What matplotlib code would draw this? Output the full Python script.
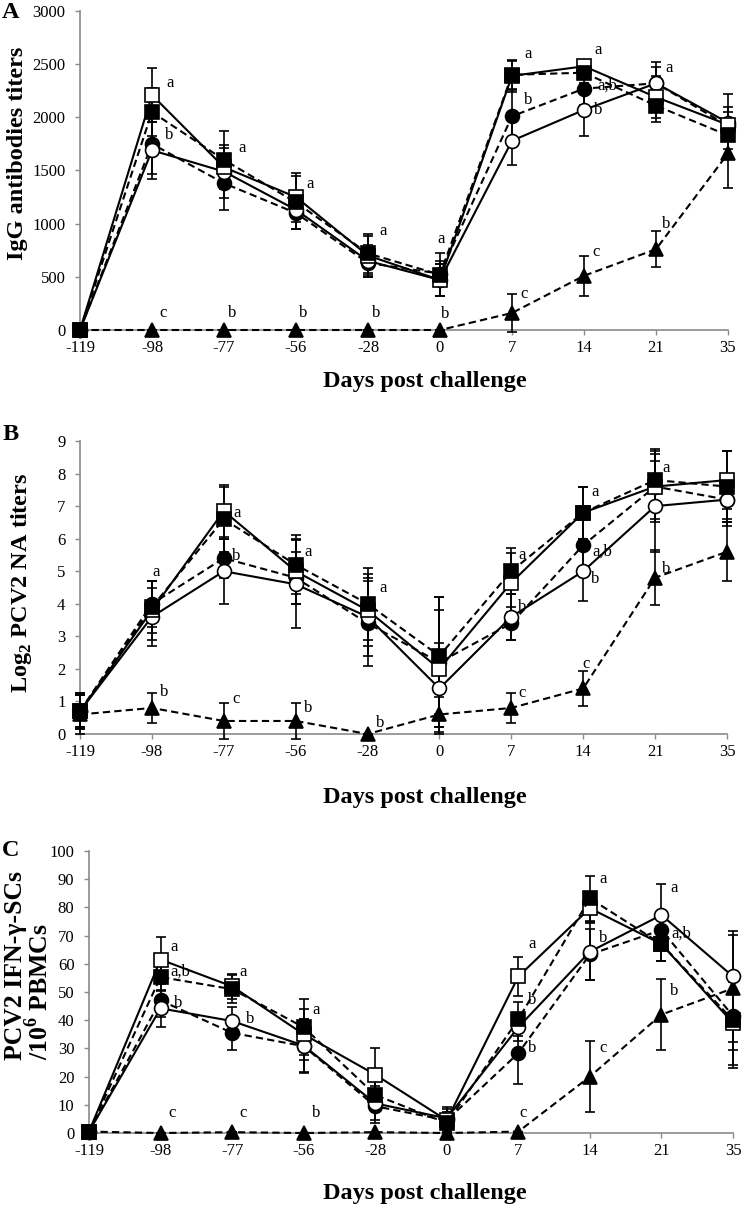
import matplotlib
matplotlib.use('Agg')
import matplotlib.pyplot as plt
import numpy as np

plt.rcParams['font.family'] = ['Liberation Serif', 'DejaVu Serif']
plt.rcParams['mathtext.fontset'] = 'custom'
plt.rcParams['mathtext.rm'] = 'Liberation Serif'
plt.rcParams['mathtext.bf'] = 'Liberation Serif:bold'

days = ['-119', '-98', '-77', '-56', '-28', '0', '7', '14', '21', '35']

# panel A: IgG titers
igg_osq = [0, 2210, 1530, 1250, 700, 470, 2390, 2480, 2190, 1930]
igg_fsq = [0, 2050, 1600, 1200, 720, 520, 2400, 2420, 2110, 1830]
igg_oci = [0, 1690, 1490, 1130, 650, 470, 1780, 2070, 2320, 1950]
igg_fci = [0, 1750, 1380, 1100, 630, 530, 2010, 2270, 2320, 1920]
igg_tri = [0, 0, 0, 0, 0, 0, 160, 510, 760, 1660]
igg_osq_e = [0, 250, 180, 230, 180, 150, 150, 30, 200, 120]
igg_fsq_e = [0, 230, 270, 250, 180, 200, 130, 40, 150, 130]
igg_oci_e = [0, 270, 250, 180, 150, 150, 230, 250, 150, 150]
igg_fci_e = [0, 280, 250, 150, 130, 120, 250, 150, 200, 300]
igg_tri_e = [0, 0, 0, 0, 0, 0, 180, 190, 170, 320]
igg_ann_x = [1.25, 1.24, 2.25, 3.19, 4.21, 5.01, 6.22, 6.22, 7.19, 7.32, 7.19, 8.18, 8.14, 7.17, 6.17, 1.15, 2.11, 3.1, 4.11, 5.07]
igg_ann_y = [2320, 1834, 1710, 1370, 930, 860, 2600, 2160, 2630, 2300, 2070, 2466, 1000, 730, 335, 160, 160, 160, 160, 150]
igg_ann_t = ['a', 'b', 'a', 'a', 'a', 'a', 'a', 'b', 'a', 'a,b', 'b', 'a', 'b', 'c', 'c', 'c', 'b', 'b', 'b', 'b']

# panel B: log2 NA titers
na_osq = [0.7, 3.8, 6.85, 5.0, 3.8, 2.0, 4.65, 6.8, 7.6, 7.8]
na_fsq = [0.7, 3.9, 6.6, 5.2, 4.0, 2.4, 5.0, 6.8, 7.8, 7.6]
na_oci = [0.7, 3.6, 5.0, 4.6, 3.6, 1.4, 3.6, 5.0, 7.0, 7.2]
na_fci = [0.7, 4.0, 5.4, 4.8, 3.4, 2.2, 3.4, 5.8, 7.6, 7.2]
na_tri = [0.6, 0.8, 0.4, 0.4, 0.0, 0.6, 0.8, 1.4, 4.8, 5.6]
na_osq_e = [0.5, 0.9, 0.8, 1.0, 1.1, 1.8, 0.9, 0.8, 1.0, 0.9]
na_fsq_e = [0.55, 0.8, 1.0, 0.9, 1.1, 1.8, 0.7, 0.8, 0.95, 1.1]
na_oci_e = [0.55, 0.9, 1.0, 1.35, 1.2, 1.4, 0.7, 0.9, 1.4, 0.8]
na_fci_e = [0.5, 0.7, 0.6, 0.8, 1.3, 2.0, 0.5, 0.8, 1.1, 0.6]
na_tri_e = [0.6, 0.45, 0.55, 0.55, 0.0, 0.55, 0.45, 0.55, 0.85, 0.9]
na_ann_x = [1.06, 2.18, 2.17, 3.17, 4.21, 1.17, 2.17, 3.17, 4.18, 6.15, 6.15, 6.15, 7.17, 7.26, 7.17, 7.04, 8.15, 8.15]
na_ann_y = [4.98, 6.79, 5.48, 5.6, 4.48, 1.29, 1.07, 0.8, 0.33, 5.5, 3.9, 1.27, 7.44, 5.6, 4.76, 2.15, 8.17, 5.07]
na_ann_t = ['a', 'a', 'b', 'a', 'a', 'b', 'c', 'b', 'b', 'a', 'b', 'c', 'a', 'a,b', 'b', 'c', 'a', 'b']

# panel C: IFN-gamma secreting cells
ifn_osq = [0.5, 61.5, 52, 35, 20.7, 4.5, 55.5, 79.7, 67, 39]
ifn_fsq = [0.5, 55.3, 51, 37.5, 13.5, 3.5, 40.3, 83.2, 67, 40]
ifn_oci = [0.5, 44.2, 39.7, 31, 10.5, 5.2, 37.5, 64.3, 77.3, 55.5]
ifn_fci = [0.5, 47, 35.5, 30.8, 9.5, 4.5, 28.3, 63.3, 72, 41.5]
ifn_tri = [0.5, 0, 0.3, 0, 0.3, 0, 0.5, 20, 42, 51.3]
ifn_osq_e = [0, 8, 4.5, 9, 9.5, 4, 7, 5, 6, 15]
ifn_fsq_e = [0, 5, 5, 10, 5, 3, 6, 8, 6, 17]
ifn_oci_e = [0, 6.5, 5, 9.5, 6, 4, 5, 10, 11, 16]
ifn_fci_e = [0, 6, 6, 9.5, 6, 3, 11, 9, 5, 12]
ifn_tri_e = [0, 0, 0, 0, 0, 0, 0, 12.5, 12.5, 19]
ifn_ann_x = [1.19, 1.27, 1.24, 2.16, 2.25, 3.17, 1.16, 2.16, 3.17, 6.19, 6.19, 6.19, 6.06, 7.18, 7.18, 7.18, 8.18, 8.28, 8.18]
ifn_ann_y = [66, 57.2, 46, 57.2, 40.4, 43.6, 7, 7, 7, 67, 47, 30, 7, 90, 69, 30, 87, 70.6, 50.5]
ifn_ann_t = ['a', 'a,b', 'b', 'a', 'b', 'a', 'c', 'c', 'b', 'a', 'b', 'b', 'c', 'a', 'b', 'c', 'a', 'a,b', 'b']

gray = '#8a8a8a'
dash = (0, (3.5, 2))
x = np.arange(len(days))


def panel(ax, series, errs, ymax, ystep, ann_x, ann_y, ann_t):
    osq, fsq, oci, fci, tri = series
    osq_e, fsq_e, oci_e, fci_e, tri_e = errs
    styles = [
        (tri, tri_e, '^', 'black', dash),
        (fci, fci_e, 'o', 'black', dash),
        (oci, oci_e, 'o', 'white', '-'),
        (osq, osq_e, 's', 'white', '-'),
        (fsq, fsq_e, 's', 'black', dash),
    ]
    for y, e, m, fc, ls in styles:
        ax.errorbar(x, y, yerr=e, color='black', marker=m, mfc=fc, mec='black',
                    ms=10, mew=1.2, lw=1.5, ls=ls, capsize=3.5, elinewidth=1.2,
                    capthick=1.2, clip_on=False, zorder=3)
    for tx, ty, tt in zip(ann_x, ann_y, ann_t):
        ax.text(tx, ty, tt, ha='center', va='center', fontsize=12, zorder=4)
    ax.set_xlim(0, 9)
    ax.set_ylim(0, ymax)
    ax.set_xticks(x)
    ax.set_xticklabels(days)
    ax.set_yticks(np.arange(0, ymax + ystep / 2, ystep))
    for s in ['top', 'right']:
        ax.spines[s].set_visible(False)
    for s in ['left', 'bottom']:
        ax.spines[s].set_color(gray)
        ax.spines[s].set_linewidth(1.2)
    ax.tick_params(axis='both', colors=gray, labelcolor='black', labelsize=12,
                   length=3.5, width=1.0, direction='out')
    ax.tick_params(axis='y', pad=7)
    ax.tick_params(axis='x', pad=4)


W, H = 742, 1207
fig = plt.figure(figsize=(W / 100, H / 100), dpi=100)


def box(l, r, t, b):
    return [l / W, 1 - b / H, (r - l) / W, (b - t) / H]


axA = fig.add_axes(box(80, 728, 11, 330))
panel(axA, (igg_osq, igg_fsq, igg_oci, igg_fci, igg_tri),
      (igg_osq_e, igg_fsq_e, igg_oci_e, igg_fci_e, igg_tri_e),
      3000, 500, igg_ann_x, igg_ann_y, igg_ann_t)
axB = fig.add_axes(box(80, 727, 441, 734))
panel(axB, (na_osq, na_fsq, na_oci, na_fci, na_tri),
      (na_osq_e, na_fsq_e, na_oci_e, na_fci_e, na_tri_e),
      9, 1, na_ann_x, na_ann_y, na_ann_t)
axC = fig.add_axes(box(89, 733, 851, 1133))
panel(axC, (ifn_osq, ifn_fsq, ifn_oci, ifn_fci, ifn_tri),
      (ifn_osq_e, ifn_fsq_e, ifn_oci_e, ifn_fci_e, ifn_tri_e),
      100, 10, ifn_ann_x, ifn_ann_y, ifn_ann_t)

lab = dict(fontsize=17.5, fontweight='bold')
for yc in [382, 798, 1193]:
    fig.text(425 / W, 1 - yc / H, 'Days post challenge', ha='center', va='center', **lab)

fig.text(18 / W, 1 - 153 / H, 'IgG antibodies titers', rotation=90, ha='center', va='center', **lab)
fig.text(22 / W, 1 - 583 / H, r'Log$_\mathbf{2}$ PCV2 NA titers', rotation=90, ha='center', va='center', **lab)
fig.text(16 / W, 1 - 1060 / H, 'PCV2 IFN-γ-SCs', rotation=90, ha='center', va='bottom',
         fontsize=18.5, fontweight='bold')
fig.text(39 / W, 1 - 1060 / H, r'/10$^\mathbf{6}$ PBMCs', rotation=90, ha='center', va='bottom',
         fontsize=18.5, fontweight='bold')

for letter, yc in [('A', 12), ('B', 435), ('C', 850)]:
    fig.text(11 / W, 1 - yc / H, letter, ha='center', va='center', fontsize=17.5, fontweight='bold')

fig.savefig('out.png', dpi=100)
